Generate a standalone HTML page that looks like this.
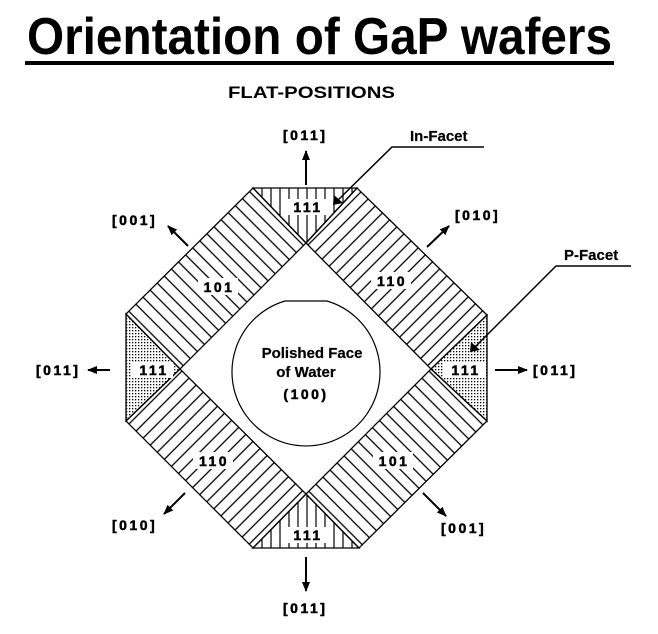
<!DOCTYPE html>
<html><head><style>html,body{margin:0;padding:0;background:#fff}svg{display:block}</style></head>
<body>
<svg width="658" height="634" viewBox="0 0 658 634" xmlns="http://www.w3.org/2000/svg" font-family="Liberation Sans, Arial, sans-serif">
<defs>
<pattern id="bs" patternUnits="userSpaceOnUse" width="10" height="10" patternTransform="rotate(-45)"><line x1="1" y1="0" x2="1" y2="10" stroke="#000" stroke-width="1.3"/></pattern>
<pattern id="fs" patternUnits="userSpaceOnUse" width="10" height="10" patternTransform="rotate(45)"><line x1="1" y1="0" x2="1" y2="10" stroke="#000" stroke-width="1.3"/></pattern>
<pattern id="vt" patternUnits="userSpaceOnUse" width="9" height="9"><line x1="1" y1="0" x2="1" y2="9" stroke="#000" stroke-width="1.2"/></pattern>
<pattern id="dt" patternUnits="userSpaceOnUse" width="3" height="3"><rect x="0" y="0" width="1.3" height="1.3" fill="#000"/></pattern>
<marker id="ah" markerWidth="10" markerHeight="8" refX="9" refY="4" orient="auto" markerUnits="userSpaceOnUse"><path d="M0,0 L10,4 L0,8 z" fill="#000"/></marker>
</defs>
<text x="27" y="54" font-size="52" font-weight="bold" textLength="585" lengthAdjust="spacingAndGlyphs">Orientation of GaP wafers</text>
<rect x="25" y="61" width="589" height="4" fill="#000"/>
<text x="228" y="98" font-size="17" font-weight="bold" textLength="167" lengthAdjust="spacingAndGlyphs">FLAT-POSITIONS</text>

<g stroke="#000" stroke-width="1.3" stroke-linejoin="miter">
<polygon points="253,188 357,188 306,243" fill="url(#vt)"/>
<polygon points="253,548 306,494 359,548" fill="url(#vt)"/>
<polygon points="126,314 180,369 126,421" fill="url(#dt)"/>
<polygon points="487,421 431,369 487,315" fill="url(#dt)"/>
<polygon points="253,188 306,243 180,369 126,314" fill="url(#bs)"/>
<polygon points="359,548 306,494 431,369 487,421" fill="url(#bs)"/>
<polygon points="487,315 431,369 306,243 357,188" fill="url(#fs)"/>
<polygon points="126,421 180,369 306,494 253,548" fill="url(#fs)"/>
</g>
<path d="M285,301 H327 A74,74 0 1 1 285,301 Z" fill="#fff" stroke="#000" stroke-width="1.2"/>
<g font-size="15" font-weight="bold" text-anchor="middle" fill="#000" stroke="#000" stroke-width="0.2">
<text x="312" y="358">Polished Face</text>
<text x="306" y="377">of Water</text>
</g>
<text x="306" y="399" font-size="14" font-weight="bold" text-anchor="middle" letter-spacing="2.5" stroke="#000" stroke-width="0.5">(100)</text>

<g font-size="14" font-weight="bold" text-anchor="middle" letter-spacing="2.5" stroke="#000" stroke-width="0.5">
<rect x="198" y="278" width="40" height="17" fill="#fff" stroke="none"/><text x="219" y="292">101</text>
<rect x="371" y="272" width="40" height="17" fill="#fff" stroke="none"/><text x="392" y="286">110</text>
<rect x="193" y="452" width="40" height="17" fill="#fff" stroke="none"/><text x="214" y="466">110</text>
<rect x="373" y="452" width="40" height="17" fill="#fff" stroke="none"/><text x="394" y="466">101</text>
<rect x="288" y="199" width="38" height="16" fill="#fff" stroke="none"/><text x="308" y="212">111</text>
<rect x="288" y="527" width="38" height="16" fill="#fff" stroke="none"/><text x="308" y="540">111</text>
<rect x="131" y="362" width="42" height="16" fill="#fff" stroke="none"/><text x="154" y="375">111</text>
<rect x="443" y="362" width="42" height="16" fill="#fff" stroke="none"/><text x="466" y="375">111</text>
</g>

<g stroke="#000" stroke-width="2" marker-end="url(#ah)">
<line x1="306" y1="185" x2="306" y2="151"/>
<line x1="306" y1="557" x2="306" y2="591"/>
<line x1="110" y1="370" x2="88" y2="370"/>
<line x1="495" y1="370" x2="527" y2="370"/>
<line x1="188" y1="246" x2="168" y2="226"/>
<line x1="427" y1="247" x2="449" y2="226"/>
<line x1="185" y1="493" x2="164" y2="514"/>
<line x1="423" y1="493" x2="446" y2="516"/>
</g>
<g fill="none" stroke="#000" stroke-width="1.5">
<polyline points="484,147 392,147 337,201"/>
<polyline points="631,266 556,266 474,348"/>
</g>
<path d="M333,205 L334,195 L343,203 z" fill="#000"/>
<path d="M470,352 L471,342 L480,350 z" fill="#000"/>
<g font-size="15" font-weight="bold" stroke="#000" stroke-width="0.2">
<text x="410" y="141">In-Facet</text>
<text x="564" y="260">P-Facet</text>
</g>

<g font-size="14" font-weight="bold" letter-spacing="2.5" stroke="#000" stroke-width="0.5">
<text x="283" y="140">[011]</text>
<text x="283" y="613">[011]</text>
<text x="36" y="375">[011]</text>
<text x="533" y="375">[011]</text>
<text x="112" y="225">[001]</text>
<text x="455" y="220">[010]</text>
<text x="112" y="530">[010]</text>
<text x="441" y="533">[001]</text>
</g>
</svg>
</body></html>
